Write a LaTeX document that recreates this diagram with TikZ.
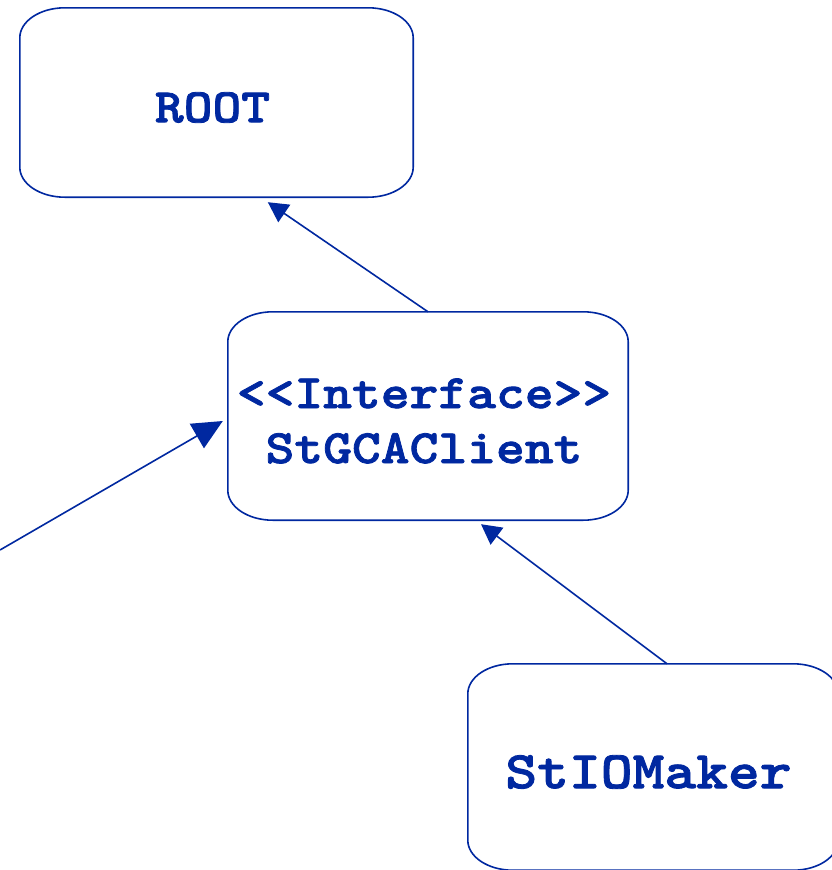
\documentclass[tikz,border=0pt]{standalone}
\usepackage{fontspec}
% slab-serif bold typewriter face, widened to a 0.6em advance
\newfontfamily\classfont{lmmonolt10-bold.otf}[FakeStretch=1.143, FakeBold=1.6]
\usetikzlibrary{arrows.meta}
\definecolor{umlblue}{RGB}{0,40,160}
% capsule outline with elliptical corners around a (borderless) node
\newcommand\capsuleoutline[1]{%
  \draw[boxline] ([xshift=45pt]#1.north west) -- ([xshift=-45pt]#1.north east)
    arc[start angle=90, end angle=0, x radius=45pt, y radius=30pt]
    -- ([yshift=30pt]#1.south east)
    arc[start angle=0, end angle=-90, x radius=45pt, y radius=30pt]
    -- ([xshift=45pt]#1.south west)
    arc[start angle=270, end angle=180, x radius=45pt, y radius=30pt]
    -- ([yshift=-30pt]#1.north west)
    arc[start angle=180, end angle=90, x radius=45pt, y radius=30pt] -- cycle;}
\begin{document}
\begin{tikzpicture}[x=1pt, y=-1pt,
  boxline/.style={draw=umlblue, line width=1.6pt},
  classbox/.style={inner sep=0pt, draw=none},
  classname/.style={inner sep=0pt, align=center, text=umlblue,
    font=\classfont\fontsize{48}{55}\selectfont},
  smallhead/.style={-{Triangle[length=20pt, width=21pt]}},
  largehead/.style={-{Triangle[length=30pt, width=28pt]}},
  link/.style={draw=umlblue, line width=1.6pt, fill=none}]
  \useasboundingbox (0,0) rectangle (832,870);
  \clip (0,0) rectangle (832,870);
  \fill[white] (0,0) rectangle (832,870);

  % class boxes
  \node[classbox, minimum width=393pt, minimum height=189pt] (root) at (216.5,102.5) {};
  \node[classbox, minimum width=400pt, minimum height=208pt] (iface) at (428,416) {};
  \node[classbox, minimum width=370pt, minimum height=206pt] (io) at (653,767) {};
  \capsuleoutline{root}
  \capsuleoutline{iface}
  \capsuleoutline{io}

  % class names
  \node[classname] (rootname) at ([xshift=-4pt, yshift=-5pt]root.center) {ROOT};
  \node[classname] (ifacename) at ([xshift=-4pt, yshift=-5pt]iface.center)
    {{<}{<}Interface{>}{>}\\StGCAClient};
  \node[classname, font=\classfont\fontsize{53}{60}\selectfont] (ioname)
    at ([xshift=-4.5pt, yshift=-5pt]io.center) {StIOMaker};

  % generalisation links
  \coordinate (src) at (0,550);
  \draw[link, smallhead, umlblue] (iface.north) -- ([xshift=248pt, yshift=-5pt]root.south west);
  \draw[link, smallhead, umlblue] ([xshift=14pt]io.north) -- ([xshift=53pt, yshift=-4pt]iface.south);
  \draw[link, largehead, umlblue] (src) -- ([xshift=-5pt, yshift=-5pt]iface.west);
\end{tikzpicture}
\end{document}
